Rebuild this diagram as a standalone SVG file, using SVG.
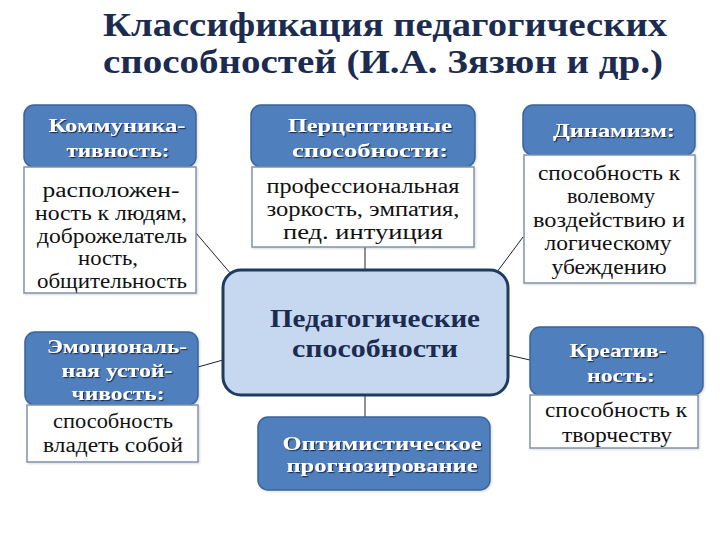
<svg xmlns="http://www.w3.org/2000/svg" width="720" height="540" viewBox="0 0 720 540" font-family="Liberation Serif, DejaVu Serif, Times New Roman, serif">
<defs>
<filter id="sh" x="-10%" y="-30%" width="120%" height="160%">
<feDropShadow dx="1.2" dy="1.2" stdDeviation="0.6" flood-color="#1b2a45" flood-opacity="0.9"/>
</filter>
<filter id="bs" x="-5%" y="-5%" width="115%" height="115%">
<feDropShadow dx="1" dy="1" stdDeviation="1.2" flood-color="#000" flood-opacity="0.15"/>
</filter>
</defs>
<style>
.title{font-weight:bold;font-size:33px;fill:#1c2b50;}
.hdr{fill:#4f7fbd;stroke:#3a659a;stroke-width:1.5;filter:url(#bs);}
.body{fill:#ffffff;stroke:#7f93ab;stroke-width:1.5;filter:url(#bs);}
.ht{font-weight:bold;font-size:19px;fill:#ffffff;text-anchor:middle;filter:url(#sh);}
.bt{font-size:20px;fill:#111111;text-anchor:middle;}
.ct{font-weight:bold;font-size:26px;fill:#1c2b50;text-anchor:middle;}
.conn line{stroke:#1a2233;stroke-width:1;}
</style>
<rect width="720" height="540" fill="#ffffff"/>
<g id="title">
<text class="title" x="103" y="36" textLength="564" lengthAdjust="spacingAndGlyphs">Классификация педагогических</text>
<text class="title" x="103" y="73" textLength="560" lengthAdjust="spacingAndGlyphs">способностей (И.А. Зязюн и др.)</text>
</g>
<g class="conn" id="connectors">
<line x1="196" y1="233" x2="231" y2="274"/>
<line x1="365" y1="247" x2="365" y2="270"/>
<line x1="523" y1="237" x2="497" y2="272"/>
<line x1="198" y1="367" x2="223" y2="360"/>
<line x1="530" y1="360" x2="508" y2="355"/>
<line x1="365" y1="395" x2="365" y2="417"/>
</g>
<g id="node-communicative">
<rect class="hdr" x="24" y="105" width="172" height="62" rx="10"/>
<rect class="body" x="24" y="167" width="172" height="126"/>
<text class="ht" x="117" y="132" textLength="137" lengthAdjust="spacingAndGlyphs">Коммуника-</text>
<text class="ht" x="118" y="157" textLength="103" lengthAdjust="spacingAndGlyphs">тивность:</text>
<text class="bt" x="111" y="197" textLength="137" lengthAdjust="spacingAndGlyphs">расположен-</text>
<text class="bt" x="111" y="220" textLength="152" lengthAdjust="spacingAndGlyphs">ность к людям,</text>
<text class="bt" x="112" y="243" textLength="150" lengthAdjust="spacingAndGlyphs">доброжелатель</text>
<text class="bt" x="108" y="265" textLength="60" lengthAdjust="spacingAndGlyphs">ность,</text>
<text class="bt" x="112" y="288" textLength="150" lengthAdjust="spacingAndGlyphs">общительность</text>
</g>
<g id="node-perceptive">
<rect class="hdr" x="251" y="105" width="224" height="62" rx="10"/>
<rect class="body" x="252" y="167" width="222" height="80"/>
<text class="ht" x="370" y="132" textLength="164" lengthAdjust="spacingAndGlyphs">Перцептивные</text>
<text class="ht" x="370" y="157" textLength="156" lengthAdjust="spacingAndGlyphs">способности:</text>
<text class="bt" x="363" y="193" textLength="193" lengthAdjust="spacingAndGlyphs">профессиональная</text>
<text class="bt" x="363" y="216" textLength="193" lengthAdjust="spacingAndGlyphs">зоркость, эмпатия,</text>
<text class="bt" x="363" y="239" textLength="160" lengthAdjust="spacingAndGlyphs">пед. интуиция</text>
</g>
<g id="node-dynamism">
<rect class="hdr" x="523" y="105" width="172" height="50" rx="10"/>
<rect class="body" x="524" y="155" width="171" height="128"/>
<text class="ht" x="614" y="137" textLength="122" lengthAdjust="spacingAndGlyphs">Динамизм:</text>
<text class="bt" x="609" y="180" textLength="142" lengthAdjust="spacingAndGlyphs">способность к</text>
<text class="bt" x="611" y="203" textLength="88" lengthAdjust="spacingAndGlyphs">волевому</text>
<text class="bt" x="609" y="227" textLength="152" lengthAdjust="spacingAndGlyphs">воздействию и</text>
<text class="bt" x="608" y="250" textLength="127" lengthAdjust="spacingAndGlyphs">логическому</text>
<text class="bt" x="609" y="274" textLength="115" lengthAdjust="spacingAndGlyphs">убеждению</text>
</g>
<g id="node-emotional">
<rect class="hdr" x="25" y="332" width="173" height="73" rx="10"/>
<rect class="body" x="27" y="405" width="171" height="57"/>
<text class="ht" x="117" y="353" textLength="140" lengthAdjust="spacingAndGlyphs">Эмоциональ-</text>
<text class="ht" x="117" y="377" textLength="111" lengthAdjust="spacingAndGlyphs">ная устой-</text>
<text class="ht" x="118" y="400" textLength="93" lengthAdjust="spacingAndGlyphs">чивость:</text>
<text class="bt" x="113" y="428" textLength="120" lengthAdjust="spacingAndGlyphs">способность</text>
<text class="bt" x="113" y="452" textLength="140" lengthAdjust="spacingAndGlyphs">владеть собой</text>
</g>
<g id="node-center">
<rect x="223" y="270" width="285" height="125" rx="18" fill="#c5d8f0" stroke="#1f3b5e" stroke-width="3"/>
<text class="ct" x="375" y="327" textLength="210" lengthAdjust="spacingAndGlyphs">Педагогические</text>
<text class="ct" x="375" y="357" textLength="166" lengthAdjust="spacingAndGlyphs">способности</text>
</g>
<g id="node-optimistic">
<rect class="hdr" x="258" y="417" width="232" height="73" rx="10"/>
<text class="ht" x="382" y="450" textLength="199" lengthAdjust="spacingAndGlyphs">Оптимистическое</text>
<text class="ht" x="382" y="472" textLength="191" lengthAdjust="spacingAndGlyphs">прогнозирование</text>
</g>
<g id="node-creativity">
<rect class="hdr" x="530" y="327" width="173" height="68" rx="10"/>
<rect class="body" x="530" y="395" width="168" height="53"/>
<text class="ht" x="618" y="357" textLength="97" lengthAdjust="spacingAndGlyphs">Креатив-</text>
<text class="ht" x="621" y="382" textLength="68" lengthAdjust="spacingAndGlyphs">ность:</text>
<text class="bt" x="616" y="417" textLength="142" lengthAdjust="spacingAndGlyphs">способность к</text>
<text class="bt" x="617" y="442" textLength="110" lengthAdjust="spacingAndGlyphs">творчеству</text>
</g>
</svg>
